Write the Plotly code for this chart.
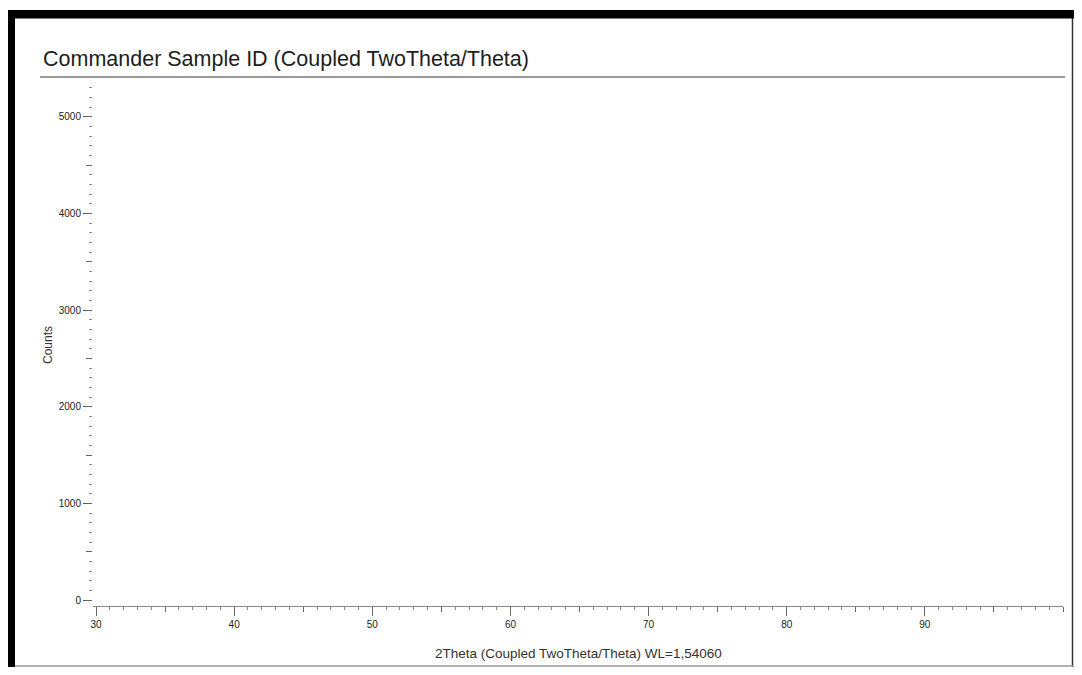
import plotly.graph_objects as go

# ---- data (the reference pattern is empty: only axes are shown) ----
two_theta = []          # no measured points visible
counts = []
x_tick_values = [30, 40, 50, 60, 70, 80, 90]
x_tick_labels = ["30", "40", "50", "60", "70", "80", "90"]
y_tick_values = [0, 1000, 2000, 3000, 4000, 5000]
y_tick_labels = ["0", "1000", "2000", "3000", "4000", "5000"]
x_range = [29.78, 100.0]
y_range = [-62, 5330]

title_text = "Commander Sample ID (Coupled TwoTheta/Theta)"
x_title = "2Theta (Coupled TwoTheta/Theta) WL=1,54060"
y_title = "Counts"

# page body has an 8px margin; figure sized so the page fits the 1082x675 window
OFF = 8
W, H = 1066, 659
L, R, T, B = 93, 1063, 85, 606  # plot area in window pixels


def px(xp):
    return (xp - L) / (R - L)


def py(yp):
    return (B - yp) / (B - T)


tick_font = dict(family="Liberation Sans Narrow, Liberation Sans, Arial", size=10, color="#222222")

fig = go.Figure()
fig.add_trace(go.Scatter(x=two_theta, y=counts, mode="lines",
                         line=dict(color="#1f3fbf", width=1), showlegend=False))
fig.add_trace(go.Scatter(x=two_theta, y=counts, xaxis="x2", yaxis="y2",
                         mode="lines", showlegend=False))

fig.update_layout(
    width=W, height=H,
    paper_bgcolor="white", plot_bgcolor="white",
    margin=dict(l=L - OFF, r=W - (R - OFF), t=T - OFF, b=H - (B - OFF), pad=0),
    showlegend=False,
    xaxis=dict(range=x_range, tickmode="array", tickvals=x_tick_values, ticktext=x_tick_labels,
               ticks="outside", ticklen=9, tickwidth=1, tickcolor="#666666",
               showline=True, linecolor="#888888", linewidth=1,
               showgrid=False, zeroline=False, tickfont=tick_font,
               minor=dict(dtick=1, tick0=30, ticks="outside", ticklen=3, tickcolor="#888888", showgrid=False)),
    yaxis=dict(range=y_range, tickmode="array", tickvals=y_tick_values, ticktext=y_tick_labels,
               ticks="outside", ticklen=9, tickwidth=1, tickcolor="#555555",
               showline=False, showgrid=False, zeroline=False, tickfont=tick_font,
               minor=dict(dtick=100, tick0=0, ticks="outside", ticklen=3, tickcolor="#888888", showgrid=False)),
    xaxis2=dict(range=x_range, overlaying="x", side="bottom", dtick=5, tick0=30,
                ticks="outside", ticklen=5, tickcolor="#666666", showticklabels=False,
                showline=False, showgrid=False, zeroline=False),
    yaxis2=dict(range=y_range, overlaying="y", side="left", dtick=500, tick0=0,
                ticks="outside", ticklen=6, tickcolor="#666666", showticklabels=False,
                showline=False, showgrid=False, zeroline=False),
)

shapes = [
    # black frame: top band and left band
    dict(type="rect", xref="paper", yref="paper", x0=px(0), x1=px(1090), y0=py(10), y1=py(18.5),
         fillcolor="black", line=dict(width=0), layer="above"),
    dict(type="rect", xref="paper", yref="paper", x0=px(5), x1=px(15), y0=py(10), y1=py(690),
         fillcolor="black", line=dict(width=0), layer="above"),
    # thin right and bottom frame lines
    dict(type="line", xref="paper", yref="paper", x0=px(1072.5), x1=px(1072.5), y0=py(18), y1=py(690),
         line=dict(color="#333333", width=1.5)),
    dict(type="line", xref="paper", yref="paper", x0=px(15), x1=px(1090), y0=py(666), y1=py(666),
         line=dict(color="#999999", width=1.5)),
    # title underline
    dict(type="line", xref="paper", yref="paper", x0=px(40), x1=px(1065), y0=py(77), y1=py(77),
         line=dict(color="#999999", width=2)),
]
fig.update_layout(shapes=shapes)

fig.add_annotation(text=title_text, xref="paper", yref="paper", x=px(41), y=py(58.5),
                   xanchor="left", yanchor="middle", showarrow=False,
                   font=dict(family="Liberation Sans, Arial", size=21.5, color="#1e1e1e"))
fig.add_annotation(text=x_title, xref="paper", yref="paper", x=px(578), y=py(653),
                   xanchor="center", yanchor="middle", showarrow=False,
                   font=dict(family="Liberation Sans, Arial", size=13.5, color="#333333"))
fig.add_annotation(text=y_title, xref="paper", yref="paper", x=px(48), y=py(345),
                   xanchor="center", yanchor="middle", showarrow=False, textangle=-90,
                   font=dict(family="Liberation Sans, Arial", size=12, color="#333333"))

fig.write_html("out.html")
